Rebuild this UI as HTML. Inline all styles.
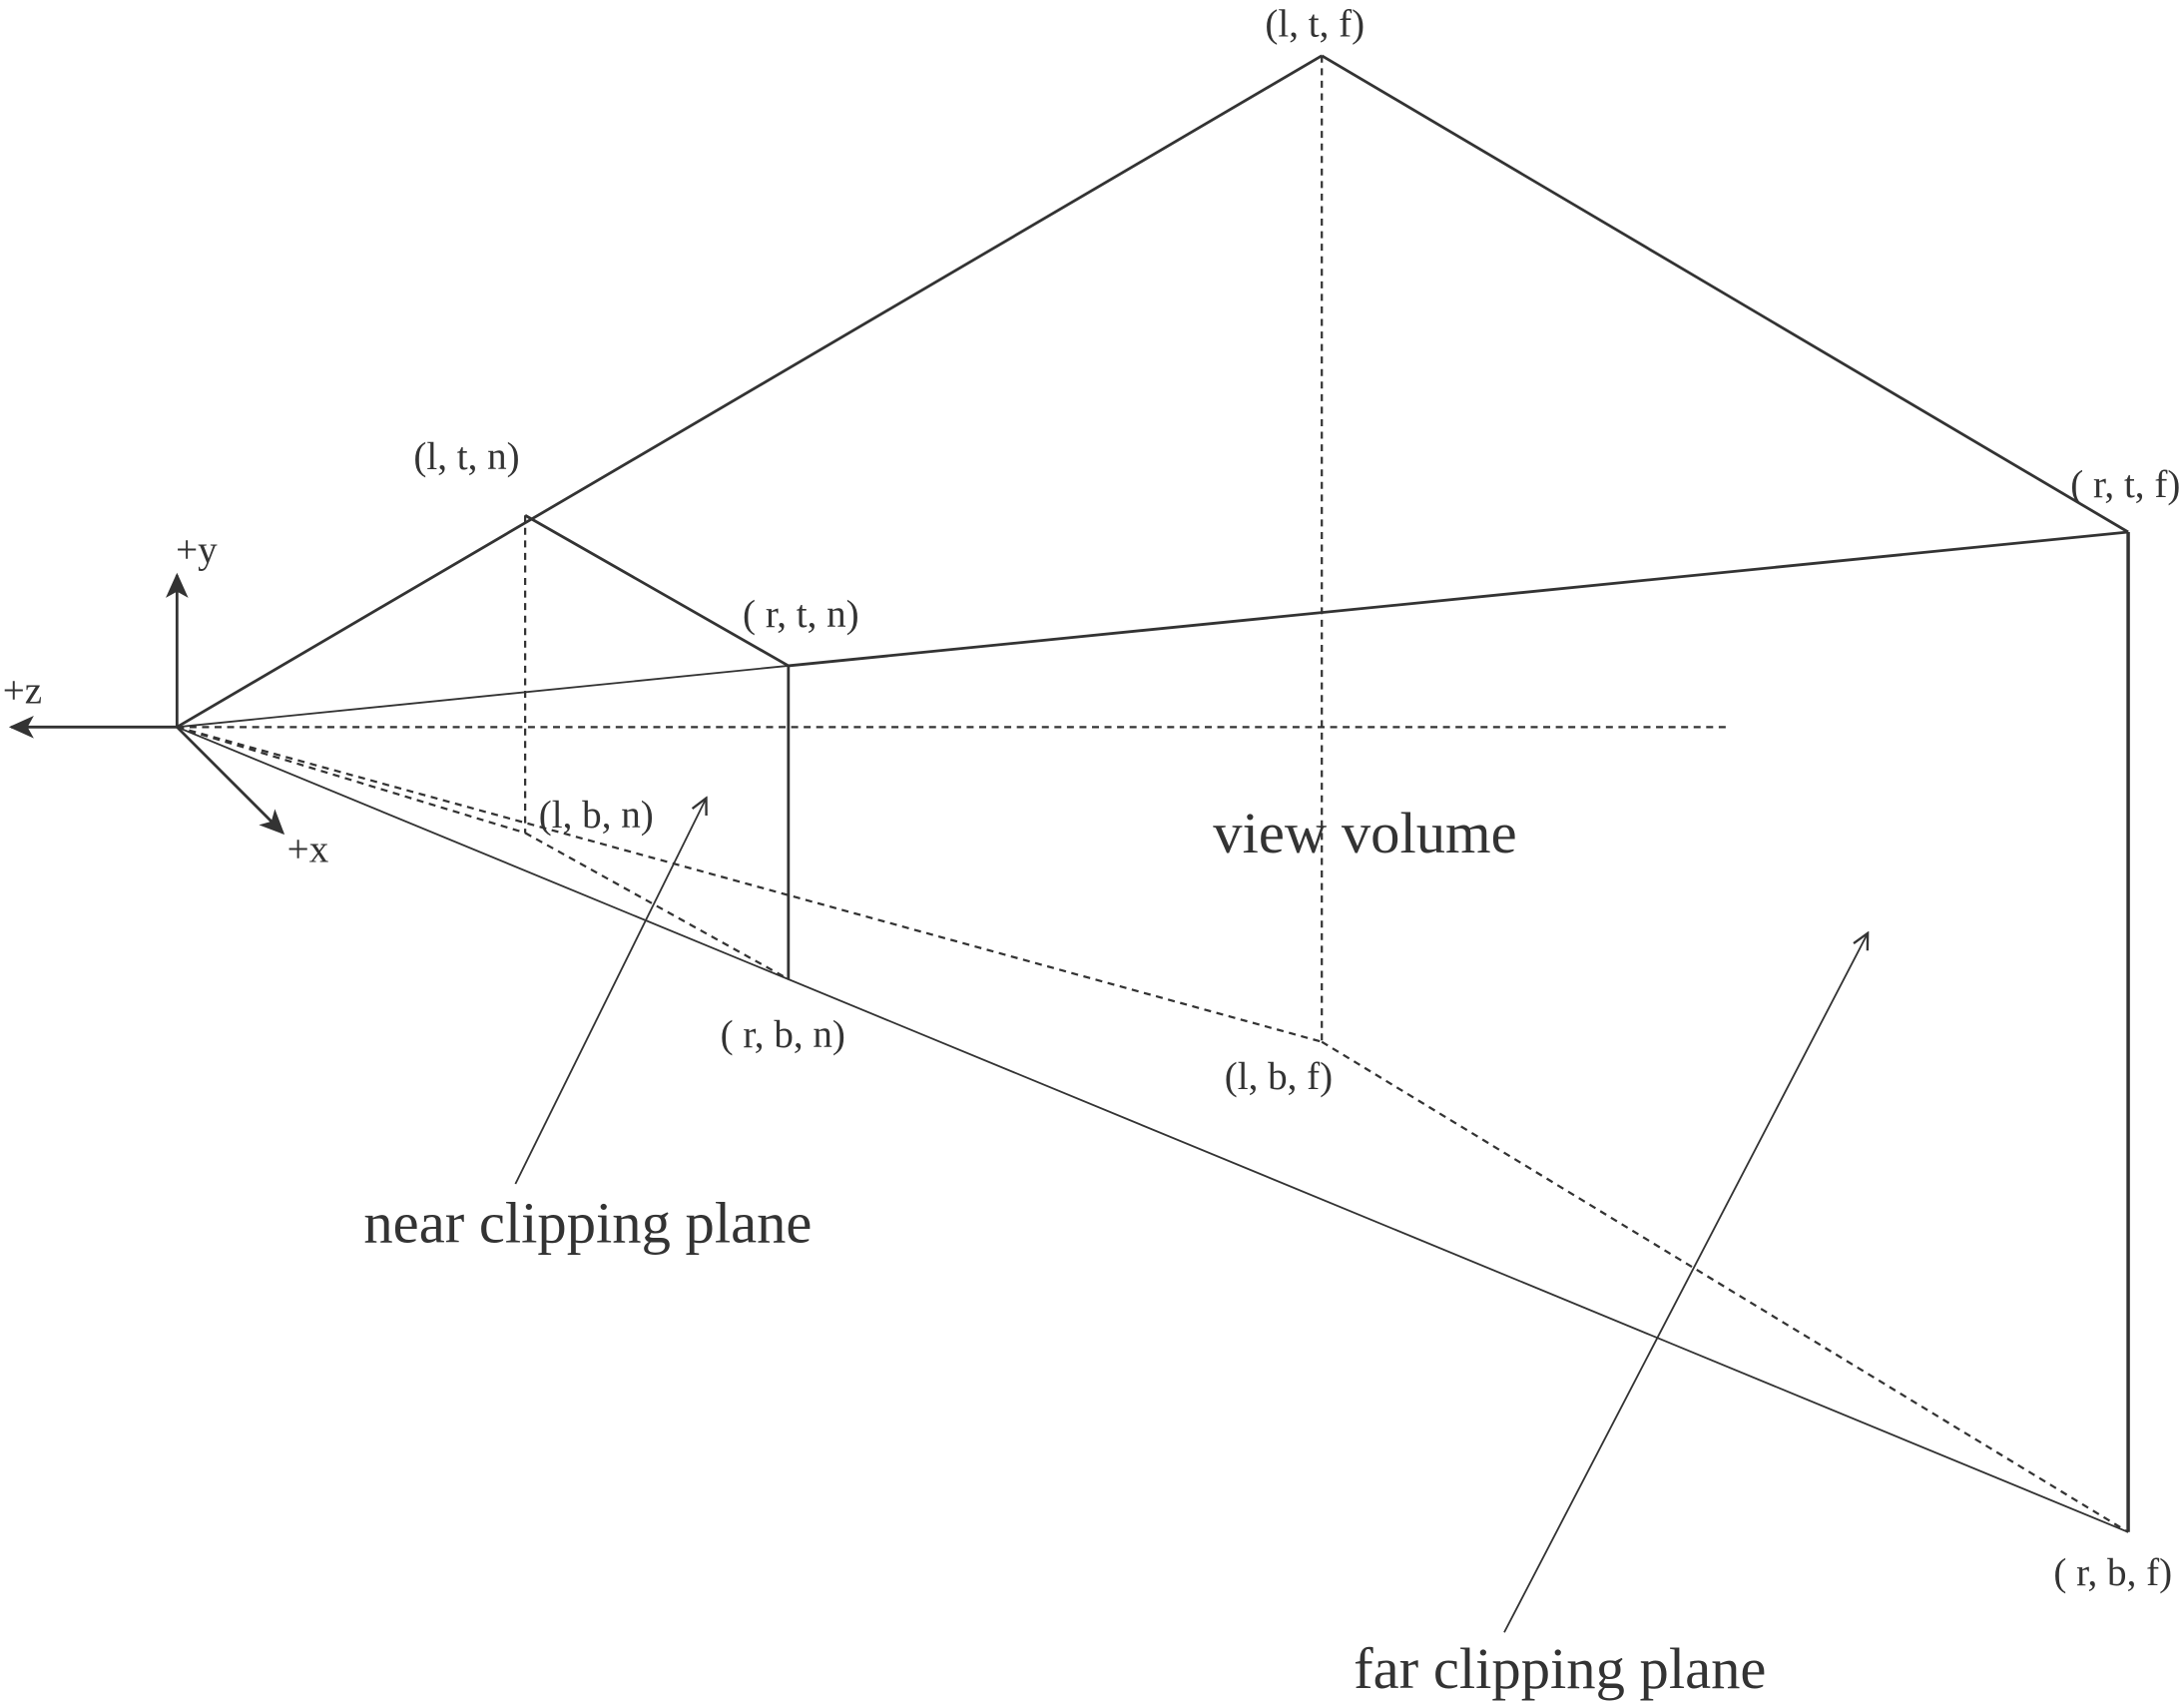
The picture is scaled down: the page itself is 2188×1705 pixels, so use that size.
<!DOCTYPE html>
<html><head><meta charset="utf-8"><style>html,body{margin:0;padding:0;background:#fff}svg{display:block}text{font-family:"Liberation Serif",serif;fill:#333}</style></head>
<body>
<svg width="2188" height="1705" viewBox="0 0 1568 1222" xmlns="http://www.w3.org/2000/svg">
<defs>
<marker id="fill" viewBox="0 0 10 10" refX="9" refY="5" markerWidth="18" markerHeight="18" orient="auto" markerUnits="userSpaceOnUse"><path d="M0,0.5 L10,5 L0,9.5 L2.5,5 z" fill="#333"/></marker>
<marker id="open" viewBox="0 0 10 10" refX="9" refY="5" markerWidth="14" markerHeight="14" orient="auto" markerUnits="userSpaceOnUse"><path d="M1,1 L9,5 L1,9" fill="none" stroke="#333" stroke-width="1.2"/></marker>
</defs>
<g stroke="#333" fill="none">
<g stroke-width="2">
<line x1="127" y1="522" x2="949" y2="40"/>
<line x1="949" y1="40" x2="1528" y2="382"/>
<line x1="377" y1="370" x2="566" y2="478"/>
<line x1="566" y1="478" x2="1528" y2="382"/>
<line x1="566" y1="478" x2="566" y2="703"/>
<line x1="1528" y1="382" x2="1528" y2="1100" stroke-width="2.5"/>
</g>
<g stroke-width="1.3">
<line x1="127" y1="522" x2="566" y2="478"/>
<line x1="127" y1="522" x2="1528" y2="1100"/>
</g>
<g stroke-width="1.6" stroke-dasharray="5,4">
<line x1="127" y1="522" x2="1240" y2="522"/>
<line x1="377" y1="370" x2="377" y2="598"/>
<line x1="949" y1="40" x2="949" y2="748"/>
<line x1="127" y1="522" x2="949" y2="748"/>
<line x1="949" y1="748" x2="1528" y2="1100"/>
<line x1="127" y1="522" x2="377" y2="598"/>
<line x1="377" y1="598" x2="566" y2="703"/>
</g>
<g stroke-width="2">
<line x1="127" y1="522" x2="127" y2="413" marker-end="url(#fill)"/>
<line x1="127" y1="522" x2="8" y2="522" marker-end="url(#fill)"/>
<line x1="127" y1="522" x2="203" y2="598" marker-end="url(#fill)"/>
</g>
<line x1="370" y1="850" x2="507" y2="573" stroke-width="1.3" marker-end="url(#open)"/>
<line x1="1080" y1="1172" x2="1341" y2="670" stroke-width="1.3" marker-end="url(#open)"/>
</g>
<g font-size="28" text-anchor="middle">
<text x="944" y="26">(l, t, f)</text>
<text x="335" y="337">(l, t, n)</text>
<text x="575" y="450">( r, t, n)</text>
<text x="1526" y="357">( r, t, f)</text>
<text x="428" y="594">(l, b, n)</text>
<text x="562" y="752">( r, b, n)</text>
<text x="918" y="782">(l, b, f)</text>
<text x="1517" y="1138">( r, b, f)</text>
<text x="141" y="404">+y</text>
<text x="16" y="505">+z</text>
<text x="221" y="619">+x</text>
</g>
<g font-size="42" text-anchor="middle">
<text x="980" y="612">view volume</text>
<text x="422" y="892">near clipping plane</text>
<text x="1120" y="1212">far clipping plane</text>
</g>
</svg>
</body></html>
